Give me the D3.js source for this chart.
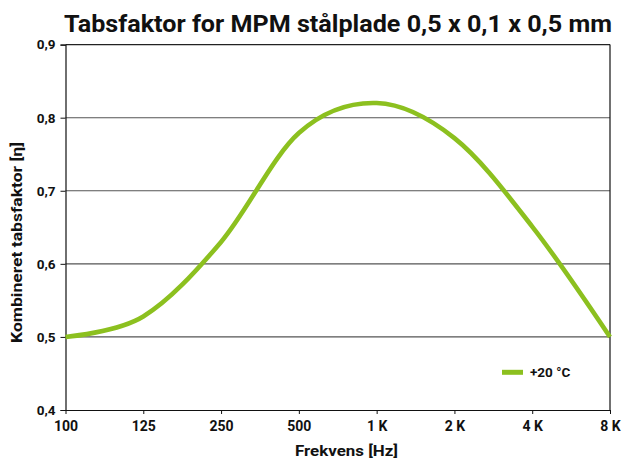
<!DOCTYPE html>
<html>
<head>
<meta charset="utf-8">
<script src="https://cdn.jsdelivr.net/npm/d3@7"></script>
<style>
  html, body { margin: 0; padding: 0; background: #fff; }
  text { font-family: Roboto, "Liberation Sans", sans-serif; font-weight: 700; fill: #111; }
</style>
</head>
<body>
<svg id="chart" width="623" height="459"></svg>
<script>
const categories = ["100", "125", "250", "500", "1 K", "2 K", "4 K", "8 K"];
const values = [0.50, 0.528, 0.630, 0.779, 0.820, 0.772, 0.651, 0.50];
const yTicks = [0.4, 0.5, 0.6, 0.7, 0.8, 0.9];
const seriesName = "+20 °C";
const titleText = "Tabsfaktor for MPM stålplade 0,5 x 0,1 x 0,5 mm";
const xTitle = "Frekvens [Hz]";
const yTitle = "Kombineret tabsfaktor [η]";

const svg = d3.select("#chart");
const pLeft = 65.5, pRight = 610, pTop = 44.6, pBottom = 410;
const green = "#8cc01f";

const x = d3.scalePoint().domain(categories).range([pLeft, pRight]);
const y = d3.scaleLinear().domain([0.4, 0.9]).range([pBottom, pTop]);

// gridlines
svg.append("g").selectAll("line").data(yTicks.filter(d => d > 0.4)).join("line")
  .attr("x1", pLeft).attr("x2", pRight)
  .attr("y1", d => y(d)).attr("y2", d => y(d))
  .attr("stroke", d => d === 0.9 ? "#222" : "#555").attr("stroke-width", 1.1);

// right border
svg.append("line").attr("x1", pRight).attr("x2", pRight).attr("y1", pTop).attr("y2", pBottom)
  .attr("stroke", "#111").attr("stroke-width", 1.2);

// y axis
const yAxis = svg.append("g").attr("transform", `translate(${pLeft},0)`)
  .call(d3.axisLeft(y).tickValues(yTicks).tickSize(5).tickPadding(5)
    .tickFormat(d => d3.format(".1f")(d).replace(".", ",")));
yAxis.select(".domain").attr("stroke", "#111").attr("stroke-width", 1.2);
yAxis.selectAll(".tick line").attr("stroke", "#111");
yAxis.selectAll("text").attr("font-size", 13.5).attr("font-family", "Roboto").attr("font-weight", 700).attr("fill", "#111");

// x axis
const xAxis = svg.append("g").attr("transform", `translate(0,${pBottom})`)
  .call(d3.axisBottom(x).tickSize(4).tickPadding(7).tickSizeOuter(0));
xAxis.select(".domain").attr("stroke", "#111").attr("stroke-width", 1.2);
xAxis.selectAll(".tick line").attr("stroke", "#111");
xAxis.selectAll("text").attr("font-size", 14).attr("font-family", "Roboto").attr("font-weight", 700).attr("fill", "#111");

// line
const line = d3.line()
  .x((d, i) => x(categories[i]))
  .y(d => y(d))
  .curve(d3.curveCardinal.tension(0));
svg.append("path").datum(values)
  .attr("d", line).attr("fill", "none")
  .attr("stroke", green).attr("stroke-width", 4.6).attr("stroke-linejoin", "round");

// title
svg.append("text").attr("x", 64).attr("y", 31.5)
  .attr("font-size", 24.5).attr("textLength", 548).attr("lengthAdjust", "spacingAndGlyphs")
  .text(titleText);

// axis titles
svg.append("text").attr("x", 295).attr("y", 455.5)
  .attr("font-size", 15.5).attr("textLength", 103).attr("lengthAdjust", "spacingAndGlyphs").text(xTitle);
svg.append("text").attr("transform", "translate(21.5,343) rotate(-90)")
  .attr("font-size", 15.5)
  .attr("textLength", 201).attr("lengthAdjust", "spacingAndGlyphs").text(yTitle);

// legend
svg.append("line").attr("x1", 502).attr("x2", 523).attr("y1", 372.3).attr("y2", 372.3)
  .attr("stroke", green).attr("stroke-width", 5);
svg.append("text").attr("x", 530).attr("y", 377).attr("font-size", 13.5).text(seriesName);
</script>
</body>
</html>
